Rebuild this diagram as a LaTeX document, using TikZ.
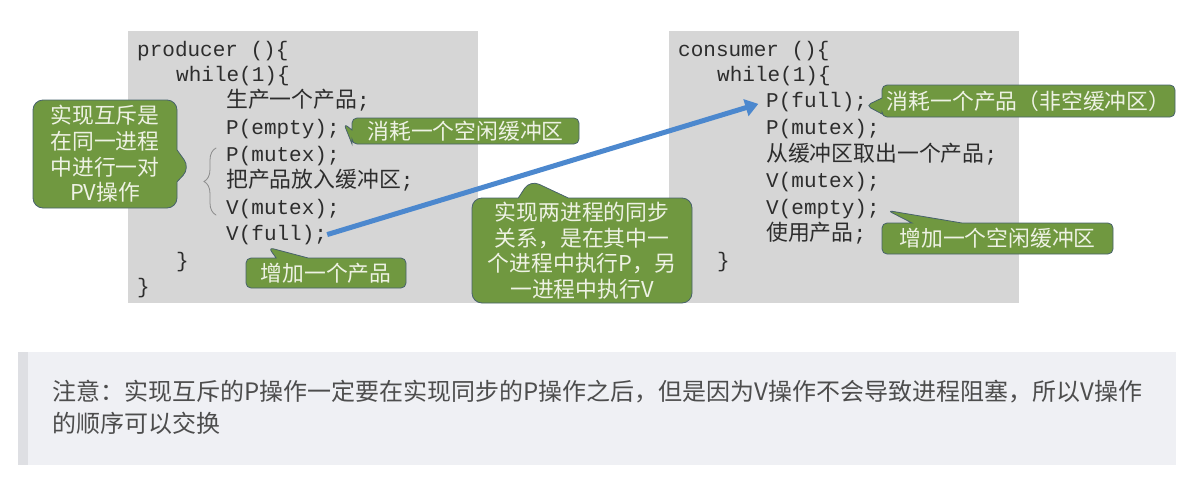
\documentclass[tikz,border=0pt]{standalone}
\usepackage{fontspec}
\usetikzlibrary{calc, shapes.callouts, decorations.pathreplacing, arrows.meta}

\newfontfamily\codefont{Liberation Mono}
\newfontfamily\zhfont{Noto Sans CJK SC}
\newfontfamily\zhcode[Scale=1.04]{Noto Sans CJK SC}
\newcommand{\zh}[1]{{\zhcode #1}}

\definecolor{codegray}{RGB}{214,214,214}
\definecolor{codeink}{RGB}{45,45,45}
\definecolor{bracegray}{RGB}{140,140,140}
\definecolor{notegreen}{RGB}{112,152,64}
\definecolor{noteedge}{RGB}{72,98,108}
\definecolor{noteink}{RGB}{238,242,228}
\definecolor{syncblue}{RGB}{76,136,206}
\definecolor{tipgray}{RGB}{239,240,244}
\definecolor{tipbar}{RGB}{222,223,227}
\definecolor{tipink}{RGB}{77,77,77}

\tikzset{
  codeline/.style={anchor=base west, inner sep=0pt, text=codeink, font=\fontsize{21}{26}\codefont},
  note/.style={rectangle callout, fill=notegreen, draw=noteedge, line width=0.8pt, text=noteink,
    rounded corners=5pt, align=center, inner sep=0pt, font=\fontsize{21.8}{25.6}\zhfont},
  noteline/.style={anchor=base west, inner sep=0pt, text=tipink, font=\fontsize{24}{32}\zhfont},
}

\begin{document}
\begin{tikzpicture}[x=1pt, y=-1pt, line cap=round]
	\useasboundingbox (0,0) rectangle (1191,477);
	
	% code panels
	\fill[codegray] (128,31) rectangle (478,303);
	\fill[codegray] (669,31) rectangle (1019,303);
	
	% producer
	\node[codeline] (prod) at (137,56) {producer ()\{};
	\node[codeline] (pwhile) at (176,81) {while(1)\{};
	\node[codeline] (produce) at (226,107) {\zh{生产一个产品};};
	\node[codeline] (pempty) at (226,134) {P(empty);};
	\node[codeline] (pmutex) at (226,161) {P(mutex);};
	\node[codeline] (putin) at (226,187) {\zh{把产品放入缓冲区};};
	\node[codeline] (vmutex) at (226,214) {V(mutex);};
	\node[codeline] (vfull) at (226,240) {V(full);};
	\node[codeline] (pclosea) at (176,267) {\}};
	\node[codeline] (pcloseb) at (137,293) {\}};
	
	% consumer
	\node[codeline] (cons) at (678,56) {consumer ()\{};
	\node[codeline] (cwhile) at (717,81) {while(1)\{};
	\node[codeline] (cpfull) at (766,107) {P(full);};
	\node[codeline] (cpmutex) at (766,134) {P(mutex);};
	\node[codeline] (takeout) at (766,161) {\zh{从缓冲区取出一个产品};};
	\node[codeline] (cvmutex) at (766,187) {V(mutex);};
	\node[codeline] (cvempty) at (766,214) {V(empty);};
	\node[codeline] (consume) at (766,240) {\zh{使用产品};};
	\node[codeline] (cclose) at (717,267) {\}};
	
	% brace round the mutex pair
	\coordinate (bracetop) at (216,148);
	\coordinate (bracebot) at (216,215);
	\draw[bracegray, line width=0.8pt, decorate, decoration={brace, amplitude=12pt}] (bracebot) -- (bracetop);
	
	% sync arrow
	\draw[syncblue, line width=5pt, line cap=butt, -{Triangle[length=13pt, width=17pt]}, shorten >=8pt] (vfull.east) -- (cpfull.west);
	
	% callouts
	\coordinate (mutextip) at (190,168);
	\coordinate (synctip) at (530,180);
	\node[note, minimum width=144pt, minimum height=108pt, rounded corners=10pt,
		callout absolute pointer={(mutextip)}, callout pointer width=32pt] (mutexnote) at (105,154)
		{实现互斥是\\在同一进程\\中进行一对\\PV操作};
	\node[note, minimum width=227pt, minimum height=26pt,
		callout absolute pointer={($(pempty.east)+(4,-5)$)}, callout pointer width=14pt] (emptynote) at (465.5,131)
		{消耗一个空闲缓冲区};
	\node[note, minimum width=160pt, minimum height=30pt,
		callout absolute pointer={($(vfull.south)+(-8,3)$)}, callout pointer width=32pt] (fullnote) at (326,273)
		{增加一个产品};
	\node[note, minimum width=220pt, minimum height=105pt, rounded corners=10pt,
		callout absolute pointer={(synctip)}, callout pointer width=50pt] (syncnote) at (582,250.5)
		{实现两进程的同步\\关系，是在其中一\\个进程中执行P，另\\一进程中执行V};
	\node[note, minimum width=293pt, minimum height=32pt,
		callout absolute pointer={($(cpfull.east)+(-1,4)$)}, callout pointer width=16pt] (pfullnote) at (1028.5,101)
		{消耗一个产品（非空缓冲区）};
	\node[note, minimum width=231pt, minimum height=31pt,
		callout absolute pointer={($(cvempty.east)+(8,2)$)}, callout pointer width=50pt] (vemptynote) at (997.5,238.5)
		{增加一个空闲缓冲区};
	
	% remark below
	\fill[tipgray] (28,352) rectangle (1176,465);
	\fill[tipbar] (18,352) rectangle (28,465);
	\node[noteline] (notea) at (52,400) {注意：实现互斥的P操作一定要在实现同步的P操作之后，但是因为V操作不会导致进程阻塞，所以V操作};
	\node[noteline] (noteb) at (52,432) {的顺序可以交换};
\end{tikzpicture}
\end{document}
